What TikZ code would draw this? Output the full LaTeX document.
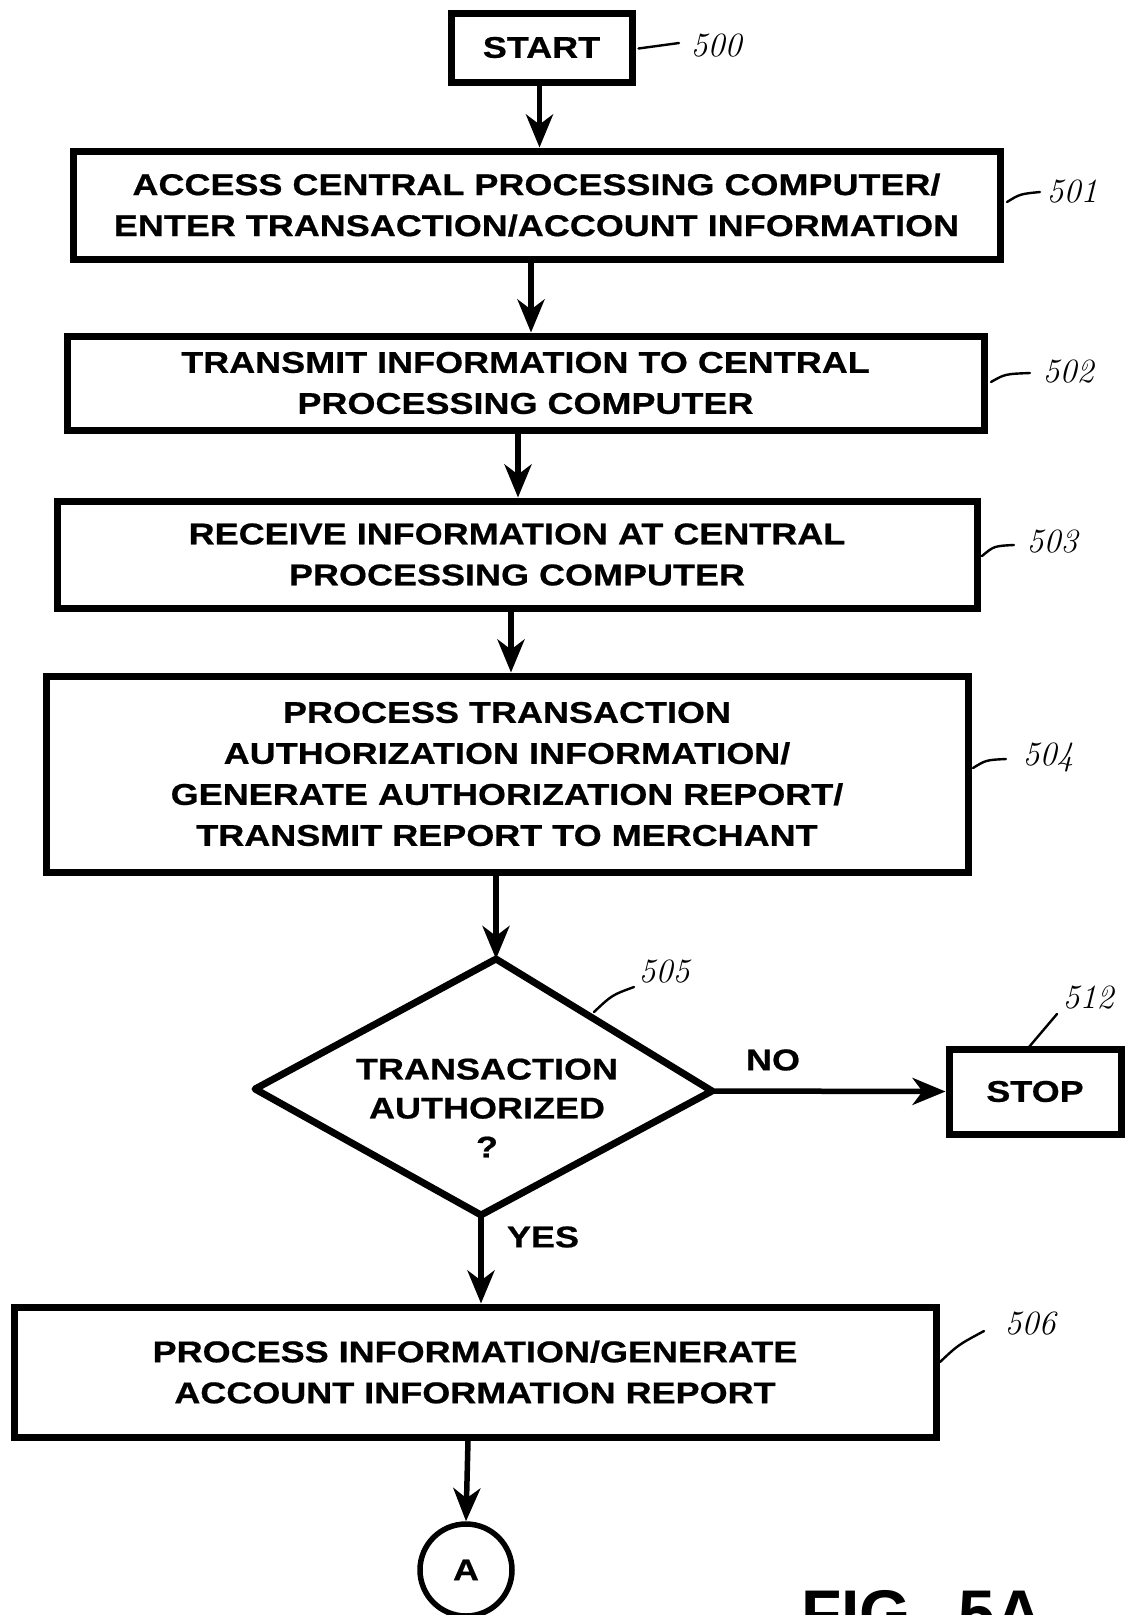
\documentclass[tikz,border=0pt]{standalone}
\usepackage{fontspec}
\setsansfont{Liberation Sans}[FakeStretch=1.2,FakeBold=0.6]
\newfontfamily\figfont{Liberation Sans}
\usetikzlibrary{arrows.meta}
\tikzset{
  box/.style={draw, line width=7pt, inner sep=0pt, align=center,
    font=\sffamily\bfseries\fontsize{30}{41}\selectfont},
  lbl/.style={inner sep=0pt, font=\sffamily\bfseries\fontsize{30}{41}\selectfont},
  arr/.style={line width=5.5pt, -{Stealth[length=33pt,width=27pt,inset=10pt]}},
  dline/.style={line width=7pt, line join=round},
  lead/.style={line width=2.4pt, line cap=round},
  num/.style={inner sep=0pt, font=\rmfamily\itshape\fontsize{34}{34}\selectfont},
}
\begin{document}
\begin{tikzpicture}[x=1pt,y=-1pt]
\useasboundingbox (0,0) rectangle (1128,1615);
\fill[white] (0,0) rectangle (1128,1615);

% boxes
\node[box, minimum width=181pt, minimum height=69pt] (start) at (541.5,47.5) {START};
\node[box, minimum width=927pt, minimum height=108pt] (b501) at (536.5,205)
  {ACCESS CENTRAL PROCESSING COMPUTER/\\ENTER TRANSACTION/ACCOUNT INFORMATION};
\node[box, minimum width=917pt, minimum height=94pt] (b502) at (525.5,383)
  {TRANSMIT INFORMATION TO CENTRAL\\PROCESSING COMPUTER};
\node[box, minimum width=920pt, minimum height=107pt] (b503) at (517,554.5)
  {RECEIVE INFORMATION AT CENTRAL\\PROCESSING COMPUTER};
\node[box, minimum width=922pt, minimum height=196pt] (b504) at (507,774)
  {PROCESS TRANSACTION\\AUTHORIZATION INFORMATION/\\GENERATE AUTHORIZATION REPORT/\\TRANSMIT REPORT TO MERCHANT};
\node[box, minimum width=172pt, minimum height=85pt] (stop) at (1035,1091.5) {STOP};
\node[box, minimum width=922pt, minimum height=130pt] (b506) at (475,1372)
  {PROCESS INFORMATION/GENERATE\\ACCOUNT INFORMATION REPORT};
\node[box, circle, line width=5.5pt, minimum size=92pt] (A) at (466,1570) {A};

% decision
\coordinate (dt) at (496,959);
\coordinate (dr) at (712,1091);
\coordinate (db) at (481,1215);
\coordinate (dl) at (255,1089);
\draw[dline] (dt) -- (dr) -- (db) -- (dl) -- cycle;
\node[lbl, align=center, font=\sffamily\bfseries\fontsize{30}{39}\selectfont] (dq) at (487,1108)
  {TRANSACTION\\AUTHORIZED\\?};

% connectors
\path (start.south) ++(-2,0) coordinate (p0);
\path (b501.south) ++(-5.5,0) coordinate (p1);
\path (b502.south) ++(-7.5,0) coordinate (p2);
\path (b503.south) ++(-6,0) coordinate (p3);
\path (b504.south) ++(-11,0) coordinate (p4);
\path (b506.south) ++(-7,0) coordinate (p6);
\draw[arr] (p0) -- (p0 |- b501.north);
\draw[arr] (p1) -- (p1 |- b502.north);
\draw[arr] (p2) -- (p2 |- b503.north);
\draw[arr] (p3) -- (p3 |- b504.north);
\draw[arr] (p4) -- (dt);
\draw[arr] (dr) -- (stop.west);
\draw[arr] (db) -- (db |- b506.north);
\draw[arr] (p6) -- (A.north);

\node[lbl] (no) at (773,1060) {NO};
\node[lbl] (yes) at (543,1237) {YES};

% reference numerals
\node[num] (n500) at (716,46) {500};
\draw[lead] (start.east) ++(3,1) coordinate (q0) -- (679,43);
\node[num] (n501) at (1072,192) {501};
\draw[lead] (1007,202) .. controls (1020,194) .. (1040,192);
\node[num] (n502) at (1068,372) {502};
\draw[lead] (991,382) .. controls (1005,374) .. (1030,373);
\node[num] (n503) at (1052,542) {503};
\draw[lead] (982,556) .. controls (994,546) .. (1014,545);
\node[num] (n504) at (1048,757) {504};
\draw[lead] (973,768) .. controls (986,760) .. (1006,759);
\node[num] (n505) at (664,972) {505};
\draw[lead] (594,1012) .. controls (612,995) .. (634,987);
\node[num] (n512) at (1088,998) {512};
\draw[lead] (1029,1047) -- (1057,1014);
\node[num] (n506) at (1030,1324) {506};
\draw[lead] (940,1362) .. controls (958,1345) .. (984,1331);

% figure title (cut by the lower edge, as in the reference)
\node[anchor=base west, inner sep=0pt, font=\figfont\bfseries\fontsize{66}{66}\selectfont] (fig) at (801,1636) {FIG.\ \,5A};
\end{tikzpicture}
\end{document}
